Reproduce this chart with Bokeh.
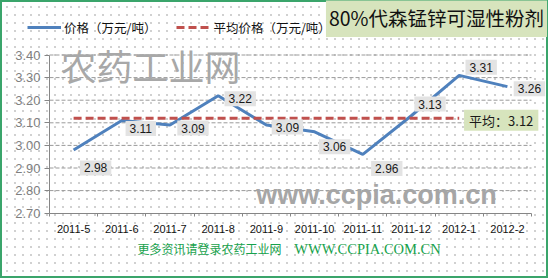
from bokeh.plotting import figure
from bokeh.models import (Range1d, FixedTicker, Label, Legend, LegendItem,
                          PrintfTickFormatter)
from bokeh.embed import file_html
from bokeh.resources import INLINE
import numpy as np

# ---- data ----
months = ["2011-5", "2011-6", "2011-7", "2011-8", "2011-9",
          "2011-10", "2011-11", "2011-12", "2012-1", "2012-2"]
price = [2.98, 3.11, 3.09, 3.22, 3.09, 3.06, 2.96, 3.13, 3.31, 3.26]
avg_price = 3.12
avg_months = months[:9]
y_ticks = [2.70, 2.80, 2.90, 3.00, 3.10, 3.20, 3.30, 3.40]

# per-label nudges (screen px) for the value boxes
label_dx = [22, 19, 23, 22, 21, 20, 24, 19, 22, 22]
label_dy = [-18, -8, -3, -3, -2, -15, -14, 12, 8, -2]

W, H = 548, 278
# plot-area placement inside the canvas (px)
AREA_L, AREA_R, AREA_T, AREA_B = 49, 531, 54.5, 212.7

n = len(months)
y0, y1 = y_ticks[0], y_ticks[-1]
px_x = (AREA_R - AREA_L) / n
px_y = (AREA_B - AREA_T) / (y1 - y0)
x_range = Range1d(-AREA_L / px_x, n + (W - AREA_R) / px_x)
y_range = Range1d(y0 - (H - AREA_B) / px_y, y1 + AREA_T / px_y)

xc = np.arange(n) + 0.5                    # category centres
xa = np.arange(len(avg_months)) + 0.5

BLUE = "#4f81bd"
RED = "#c0504d"
GRAY = "#868686"
GREEN_TXT = "#17a24c"

p = figure(width=W, height=H, output_backend="svg", toolbar_location=None,
           x_range=x_range, y_range=y_range,
           min_border=0, min_border_left=0, min_border_right=0,
           min_border_top=0, min_border_bottom=0)
p.background_fill_color = None
p.border_fill_color = None
p.outline_line_color = None
p.styles = {
    "background-color": "white",
    "background-image": "radial-gradient(#cfcfcf 0.7px, transparent 0.9px)",
    "background-size": "8px 8px",
    "background-position": "3px 3px",
    "box-shadow": "inset 0 0 0 2px #3aa56b",
}

# axes pinned to the plot-area edges
p.xaxis.fixed_location = y0
p.xaxis.bounds = (0, n)
p.xaxis.ticker = FixedTicker(ticks=list(xc), minor_ticks=list(range(n + 1)))
p.xaxis.major_label_overrides = {float(v): m for v, m in zip(xc, months)}
p.xaxis.major_tick_line_color = None
p.xaxis.major_tick_out = 0
p.xaxis.major_tick_in = 0
p.xaxis.minor_tick_out = 3
p.xaxis.minor_tick_in = 0
p.xaxis.minor_tick_line_color = GRAY
p.xaxis.axis_line_color = GRAY
p.xaxis.major_label_standoff = 9
p.xaxis.major_label_text_font = "Liberation Sans"
p.xaxis.major_label_text_font_size = "11px"
p.xaxis.major_label_text_color = "#111111"

p.yaxis.fixed_location = 0
p.yaxis.bounds = (y0, y1)
p.yaxis.ticker = FixedTicker(ticks=y_ticks)
p.yaxis.formatter = PrintfTickFormatter(format="%.2f")
p.yaxis.minor_tick_line_color = None
p.yaxis.major_tick_out = 5
p.yaxis.major_tick_in = 0
p.yaxis.major_tick_line_color = GRAY
p.yaxis.axis_line_color = GRAY
p.yaxis.major_label_standoff = 4
p.yaxis.major_label_text_font = "Liberation Sans"
p.yaxis.major_label_text_font_size = "13px"
p.yaxis.major_label_text_color = "#7f7f7f"

# horizontal gridlines across the plot area only
p.xgrid.grid_line_color = None
p.ygrid.grid_line_color = None
p.segment(x0=0, x1=n, y0=y_ticks[1:], y1=y_ticks[1:],
          line_color="#9a9a9a", line_width=1, line_dash="4 2")

# watermarks
p.add_layout(Label(x=150, y=H - 64, x_units="screen", y_units="screen",
                   text="农药工业网", text_font="Noto Sans CJK SC",
                   text_font_size="36px", text_color="#a8a8a8",
                   text_align="center", text_baseline="middle"))
p.add_layout(Label(x=376, y=H - 194, x_units="screen", y_units="screen",
                   text="www.ccpia.com.cn", text_font="Liberation Sans",
                   text_font_style="bold", text_font_size="27px",
                   text_color="#a6a6a6",
                   text_align="center", text_baseline="middle"))

# series
r_price = p.line(xc, price, line_color=BLUE, line_width=3)
r_avg = p.line(xa, [avg_price] * len(avg_months), line_color=RED,
               line_width=3, line_dash="8 4")

# value boxes
for x, v, dx, dy in zip(xc, price, label_dx, label_dy):
    p.add_layout(Label(x=x, y=v, text=f"{v:.2f}", x_offset=dx, y_offset=dy,
                       text_font="Liberation Sans", text_font_size="12px",
                       text_color="#1a1a1a", text_align="center",
                       text_baseline="middle",
                       background_fill_color="#e3e3e3",
                       padding=dict(left=4, right=4, top=3, bottom=3)))

p.add_layout(Label(x=xa[-1], y=avg_price, text=f"平均：{avg_price:.2f}",
                   x_offset=42, y_offset=-2,
                   text_font="Noto Sans CJK SC", text_font_size="13px",
                   text_color="#1a1a1a", text_align="center",
                   text_baseline="middle",
                   background_fill_color="#d7e4bd",
                   padding=dict(left=5, right=5, top=1, bottom=1)))

# title box
p.add_layout(Label(x=436, y=H - 17, x_units="screen", y_units="screen",
                   text="80%代森锰锌可湿性粉剂", text_font="Noto Sans CJK SC",
                   text_font_size="19.5px", text_color="#111111",
                   text_align="center", text_baseline="middle",
                   background_fill_color="#d7e4bd",
                   padding=dict(left=3, right=3, top=5, bottom=5)))

# footer
p.add_layout(Label(x=209, y=H - 248, x_units="screen", y_units="screen",
                   text="更多资讯请登录农药工业网", text_font="Noto Sans CJK SC",
                   text_font_size="12px", text_color=GREEN_TXT,
                   text_align="center", text_baseline="middle"))
p.add_layout(Label(x=367, y=H - 248, x_units="screen", y_units="screen",
                   text="WWW.CCPIA.COM.CN", text_font="Liberation Serif",
                   text_font_size="14.5px", text_color=GREEN_TXT,
                   text_align="center", text_baseline="middle"))

# legend
legend = Legend(items=[LegendItem(label="价格（万元/吨）", renderers=[r_price]),
                       LegendItem(label="平均价格（万元/吨）", renderers=[r_avg])],
                orientation="horizontal", location=(27, H - 37))
legend.background_fill_color = None
legend.border_line_color = None
legend.padding = 0
legend.margin = 0
legend.spacing = 20
legend.glyph_width = 34
legend.label_standoff = 3
legend.label_text_font = "Noto Sans CJK SC"
legend.label_text_font_size = "12.5px"
legend.label_text_color = "#111111"
p.add_layout(legend)

open("out.html", "w").write(file_html(p, INLINE))
